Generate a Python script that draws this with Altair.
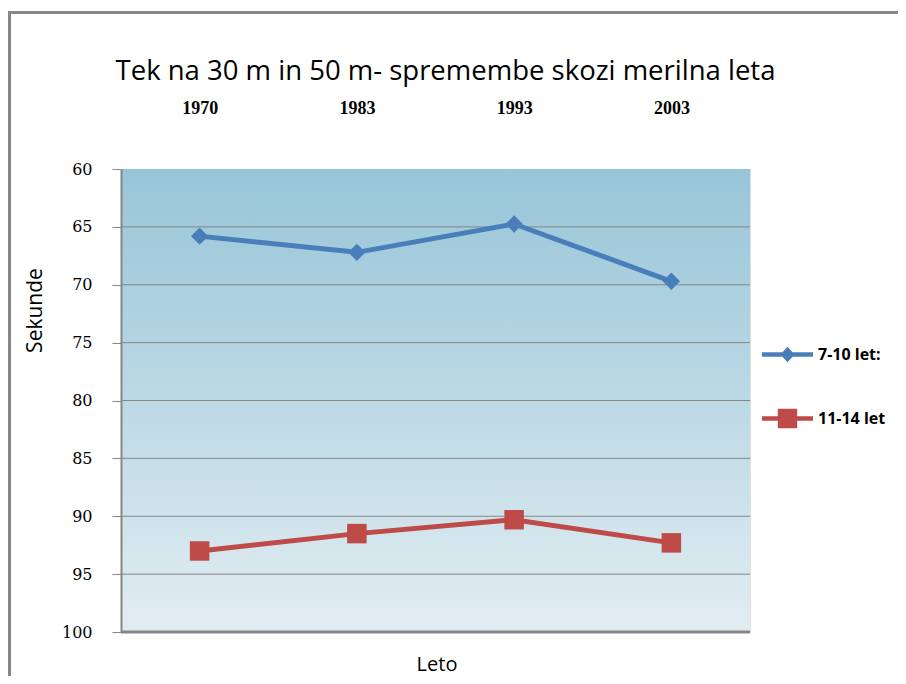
import altair as alt
import pandas as pd

years = ["1970", "1983", "1993", "2003"]
series_names = ["7-10 let:", "11-14 let"]
marker_names = ["romb", "kvadrat"]
s1 = [65.8, 67.2, 64.75, 69.7]
s2 = [93.0, 91.5, 90.3, 92.3]
y_ticks = [60, 65, 70, 75, 80, 85, 90, 95, 100]
grid_vals = [65, 70, 75, 80, 85, 90, 95]

rows = []
for name, mk, vals in zip(series_names, marker_names, [s1, s2]):
    for yr, v in zip(years, vals):
        rows.append({"leto": yr, "serija": name, "oznaka": mk, "sek": v})
df = pd.DataFrame(rows)

W, H = 629, 463
BLUE = "#4a7ebb"
RED = "#be4b48"
GRID = "#868686"

diamond_path = "M-1,-0.085L1,-0.085L1,0.085L-1,0.085Z M0,-0.3L0.28,0L0,0.3L-0.28,0Z"
square_path = "M-1,-0.085L1,-0.085L1,0.085L-1,0.085Z M-0.38,-0.38L0.38,-0.38L0.38,0.38L-0.38,0.38Z"

xenc = alt.X(
    "leto:N",
    sort=years,
    scale=alt.Scale(padding=0.5),
    axis=alt.Axis(
        orient="top", domain=False, ticks=False, tickSize=0, grid=False,
        labelFont="Liberation Serif", labelFontSize=18, labelFontWeight="bold",
        labelColor="black", labelPadding=52, labelAngle=0,
        title="Leto", titleFont="Open Sans", titleFontSize=20, titleFontWeight="normal",
        titleColor="black", titleX=315.5, titleY=495, titleBaseline="middle",
    ),
)
yscale = alt.Scale(domain=[60, 100], reverse=True, nice=False, zero=False)
yenc = alt.Y(
    "sek:Q",
    scale=yscale,
    axis=alt.Axis(
        values=y_ticks, grid=False, zindex=1,
        labelFont="DejaVu Serif", labelFontSize=16, labelColor="black", labelPadding=20,
        tickSize=9, tickColor=GRID, domainColor=GRID, domainWidth=2,
        title="Sekunde", titleFont="Open Sans", titleFontSize=21, titleFontWeight="normal",
        titleColor="black", titleX=-85.5, titleY=141, titleBaseline="middle",
    ),
)

color = alt.Color(
    "serija:N",
    sort=series_names,
    scale=alt.Scale(domain=series_names, range=[BLUE, RED]),
    legend=alt.Legend(
        title=None, orient="none", legendX=641, legendY=160, padding=0,
        symbolType=alt.ExprRef(expr="datum.value === '7-10 let:' ? '" + diamond_path + "' : '" + square_path + "'"),
        symbolFillColor=alt.ExprRef(expr="scale('color', datum.value)"),
        symbolSize=2601, symbolStrokeWidth=0, symbolOpacity=1,
        labelFont="Open Sans", labelFontSize=16, labelFontWeight="bold",
        labelColor="black", labelOffset=5, rowPadding=30,
    ),
)

one = pd.DataFrame({"a": [0]})

border = alt.Chart(one).mark_rect(fillOpacity=0, stroke="#878787", strokeWidth=3).encode(
    x=alt.value(-111.5), x2=alt.value(1200), y=alt.value(-156.5), y2=alt.value(1200)
)

bg = alt.Chart(one).mark_rect(
    color=alt.LinearGradient(
        gradient="linear", x1=0, y1=0, x2=0, y2=1,
        stops=[alt.GradientStop(offset=0, color="#97c5d8"),
               alt.GradientStop(offset=1, color="#e2edf2")],
    )
).encode(x=alt.value(0), x2=alt.value(W), y=alt.value(0), y2=alt.value(H))

grid = alt.Chart(pd.DataFrame({"sek": grid_vals})).mark_rule(color=GRID, strokeWidth=1).encode(
    y=alt.Y("sek:Q", scale=yscale)
)
bottom = alt.Chart(one).mark_rule(color=GRID, strokeWidth=3).encode(y=alt.datum(100))

lines = alt.Chart(df).mark_line(strokeWidth=5).encode(x=xenc, y=yenc, color=color)

points = alt.Chart(df).mark_point(filled=True, opacity=1).encode(
    x=alt.X("leto:N", sort=years),
    y=alt.Y("sek:Q"),
    color=alt.Color("serija:N", legend=None),
    shape=alt.Shape("oznaka:N", scale=alt.Scale(domain=marker_names, range=["diamond", "square"]), legend=None),
    size=alt.Size("oznaka:N", scale=alt.Scale(domain=marker_names, range=[300, 380]), legend=None),
)

chart = alt.layer(border, bg, grid, bottom, lines, points).properties(
    width=W, height=H,
    title=alt.TitleParams(
        "Tek na 30 m in 50 m- spremembe skozi merilna leta",
        font="Open Sans", fontSize=27.5, fontWeight="normal", color="black",
        anchor="middle", frame="group", dx=10, dy=118, offset=22, baseline="alphabetic",
    ),
    autosize=alt.AutoSizeParams(type="none"),
    padding={"left": 113, "top": 161, "right": 148, "bottom": 44},
).configure_view(stroke=None).configure(background="white")

chart.save("out.html", embed_options={"renderer": "svg", "actions": False})
